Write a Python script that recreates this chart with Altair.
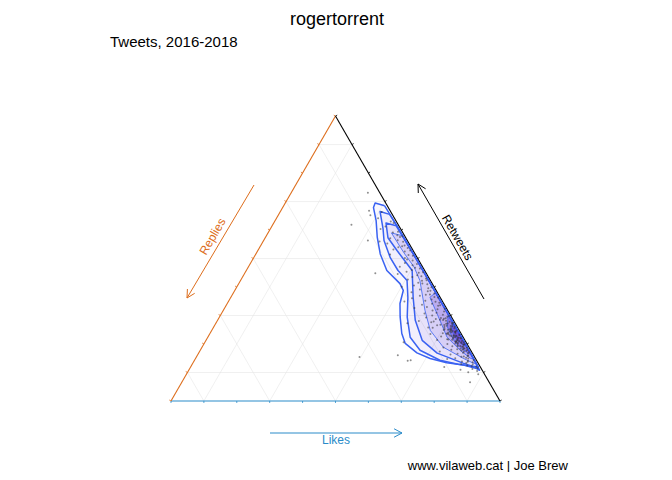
#ternary plot of tweet shares: likes / retweets / replies

import numpy as np
import pandas as pd
import altair as alt

BLUE = "#2a8bc9"
ORANGE = "#dd6d1c"
LINE = "#3a62f2"
FILL = "#4a24d8"
FONT = "Liberation Sans"

# tweet shares in percent (likes = 100 - retweets - replies)
retweets_pct = [
    66.3, 64.1, 63.0, 61.2, 60.4, 62.5, 65.2, 59.1,
    58.2, 57.1, 56.4, 55.3, 54.6, 54.0, 53.2, 52.5, 51.4, 51.0, 50.2, 56.0, 53.7, 57.6,
    49.3, 48.4, 47.6, 47.1, 46.5, 46.0, 45.4, 45.0, 44.6, 44.1, 43.5, 43.0, 42.6, 42.2, 41.5, 41.0, 40.5, 40.1,
    39.6, 39.1, 38.5, 38.2, 37.7, 37.3, 36.9, 36.5, 36.1, 35.6, 35.2, 34.9, 34.5, 34.1, 33.8,
    33.4, 33.0, 32.6, 32.2, 31.8, 31.4, 31.0, 30.7, 30.3, 30.0,
    59.4, 57.8, 55.9, 54.3, 52.8, 51.2, 49.7, 48.1, 46.8, 45.2,
    43.8, 42.4, 41.2, 39.9, 38.7, 37.4, 36.2, 34.8, 33.6, 32.4,
    29.6, 29.1, 28.8, 29.3, 28.2, 28.5, 27.9, 28.1, 27.4, 27.1, 26.8, 27.6, 26.3, 26.0, 26.6,
    25.8, 25.5, 25.2, 24.9, 25.7, 24.6, 24.3, 24.0, 23.8, 24.4, 23.5, 23.2, 22.9, 23.6, 22.6,
    22.3, 22.0, 21.7, 22.5, 21.4, 21.1, 20.8, 21.6, 20.5, 20.2, 20.0, 21.3, 20.7, 23.0, 24.8,
    24.2, 23.1, 22.2, 21.2, 20.3, 19.3, 25.1, 26.2, 18.4, 22.7, 20.4, 23.4,
    29.8, 29.0, 28.4, 27.8, 27.2, 26.7, 26.1, 25.6, 25.0, 24.5,
    24.1, 23.7, 23.3, 22.8, 22.4, 21.9, 21.5, 21.0, 20.6, 20.1,
    19.7, 19.2, 18.7, 18.1, 17.6, 28.9, 27.5, 26.4, 25.3, 24.7,
    23.9, 23.0, 22.1, 21.8, 20.9, 19.9, 19.0, 18.3, 17.3, 26.9,
    19.8, 19.5, 19.2, 19.0, 18.8, 18.5, 18.2, 18.0, 17.7, 17.4, 17.1, 16.9, 16.6, 16.3, 16.0,
    15.8, 15.5, 15.2, 15.0, 14.7, 14.4, 14.1, 13.9, 13.6, 13.3, 13.0, 12.8, 12.5, 12.2, 12.0,
    14.9, 16.7, 17.9, 13.8, 15.6,
    11.6, 11.2, 10.5, 10.1, 9.4, 11.0,
    73.1, 66.8, 61.9, 56.3, 44.8, 27.3, 20.6, 16.1, 14.3, 14.1, 15.4, 11.9, 6.6,
]
replies_pct = [
    2.8, 5.0, 1.7, 4.2, 6.1, 1.1, 6.8, 3.0,
    2.1, 4.8, 2.9, 6.6, 1.7, 3.9, 5.8, 2.7, 7.7, 1.0, 3.8, 8.6, 1.2, 1.6,
    1.9, 4.7, 2.8, 6.9, 1.1, 3.8, 5.7, 2.2, 8.8, 3.1, 4.9, 1.0, 6.7, 2.6, 4.1, 1.6, 5.9, 9.8,
    2.0, 4.8, 2.7, 7.8, 1.1, 3.9, 5.9, 1.7, 8.7, 3.0, 5.1, 11.6, 1.2, 3.6, 6.8,
    2.1, 5.7, 9.7, 2.9, 4.6, 1.3, 3.8, 7.6, 2.2, 5.6,
    1.3, 0.8, 1.5, 2.6, 0.9, 2.2, 3.4, 1.2, 2.4, 0.8,
    2.0, 1.1, 3.0, 0.9, 1.8, 2.6, 0.7, 2.2, 1.4, 0.6,
    1.2, 3.4, 5.1, 7.8, 2.3, 4.0, 6.2, 10.6, 0.9, 2.8, 4.7, 7.1, 1.8, 3.9, 5.8,
    8.9, 1.1, 2.6, 4.6, 7.6, 2.1, 1.5, 3.7, 5.5, 2.9, 9.4, 0.8, 2.6, 4.4, 6.6,
    1.7, 3.3, 5.2, 2.4, 8.4, 1.0, 2.9, 4.9, 1.6, 3.5, 6.0, 2.2, 3.0, 1.9, 2.5,
    1.5, 2.5, 1.4, 2.6, 1.5, 2.4, 2.3, 1.4, 1.6, 3.4, 2.6, 3.9,
    0.6, 2.0, 3.1, 1.4, 2.3, 3.6, 0.7, 2.1, 3.3, 1.2,
    2.7, 4.1, 0.6, 1.8, 2.9, 0.9, 3.8, 1.9, 0.7, 2.8,
    1.3, 3.2, 0.7, 2.2, 1.4, 2.6, 0.5, 3.0, 4.2, 0.8,
    1.6, 3.7, 0.9, 2.0, 3.1, 0.8, 1.7, 2.9, 2.3, 1.0,
    1.1, 3.2, 4.9, 2.0, 7.8, 1.8, 3.9, 5.8, 2.9, 9.6, 0.9, 2.8, 4.6, 6.9, 1.7,
    1.9, 4.0, 2.7, 6.1, 8.7, 0.8, 2.7, 4.6, 1.5, 3.6, 5.3, 1.9, 3.7, 2.5, 1.2,
    2.2, 1.4, 1.0, 2.9, 3.2,
    1.0, 2.8, 1.7, 4.6, 1.9, 6.5,
    3.6, 6.4, 14.2, 12.0, 15.5, 14.5, 19.0, 23.0, 20.0, 21.0, 35.0, 11.0, 5.8,
]
assert len(retweets_pct) == len(replies_pct)

# density contour outlines (retweets %, replies %), outer -> inner
contour_rt = [
    [68.5, 69.5, 67.9, 63.3, 57.4, 51.6, 45.8, 41.2, 38.8, 34.2, 29.5, 23.7, 20.2, 16.9,
     14.9, 13.4, 12.6, 11.4, 10.8, 20.0, 35.0, 50.0, 62.0, 68.5],
    [65.5, 66.5, 60.5, 56.3, 50.3, 45.8, 42.3, 36.4, 29.4, 22.4, 17.8, 14.3, 12.9, 12.2,
     12.0, 20.0, 35.0, 50.0, 62.0, 65.5],
    [61.5, 62.5, 57.3, 52.8, 45.8, 36.4, 28.3, 21.3, 16.8, 13.3, 11.9, 11.9, 20.0, 35.0, 50.0, 61.5],
    [58.0, 59.0, 52.0, 47.0, 42.3, 31.8, 24.8, 18.9, 15.0, 13.3, 13.0, 20.0, 35.0, 50.0, 58.0],
    [38.0, 36.4, 28.3, 22.4, 17.8, 15.0, 14.6, 20.0, 30.0, 38.0],
    [30.0, 26.0, 21.0, 18.0, 16.5, 16.3, 22.0, 30.0],
    [27.5, 24.5, 21.5, 19.8, 19.0, 23.0, 27.5],
]
contour_rp = [
    [0.8, 3.2, 4.5, 6.0, 8.6, 10.6, 11.5, 9.8, 10.0, 13.3, 15.6, 18.0, 18.7, 16.8,
     13.8, 9.5, 4.8, 1.4, 0.8, 0.5, 0.5, 0.5, 0.6, 0.8],
    [0.8, 3.2, 5.3, 7.1, 8.2, 8.1, 7.1, 9.8, 13.5, 16.1, 15.4, 11.1, 6.3, 2.4,
     0.7, 0.5, 0.5, 0.5, 0.6, 0.8],
    [0.8, 3.4, 5.4, 4.9, 3.8, 8.2, 11.6, 13.0, 10.7, 4.6, 1.6, 0.6, 0.5, 0.5, 0.5, 0.8],
    [0.7, 3.5, 3.2, 2.6, 3.2, 6.9, 8.8, 7.8, 3.7, 1.5, 0.6, 0.5, 0.5, 0.5, 0.7],
    [0.6, 3.1, 4.1, 4.9, 3.2, 1.5, 0.6, 0.5, 0.5, 0.6],
    [0.8, 3.0, 3.4, 2.2, 1.0, 0.5, 0.5, 0.8],
    [0.8, 2.3, 2.4, 1.5, 0.6, 0.5, 0.8],
]
fill_opacity = [0.03, 0.04, 0.06, 0.1, 0.2, 0.35, 0.45]

grid_vals = [0.1, 0.3, 0.5, 0.7, 0.9]
tick_vals = [i / 10 for i in range(11)]

H = np.sqrt(3) / 2


def tern(rt, rp):
    # retweets at top, likes bottom-right, replies bottom-left
    rt = np.asarray(rt, dtype=float)
    rp = np.asarray(rp, dtype=float)
    likes = 1 - rt - rp
    return likes + rt / 2, rt * H


xs = alt.Scale(domain=[-0.4954, 1.4985], nice=False, zero=False)
ys = alt.Scale(domain=[-0.2158, 1.1945], nice=False, zero=False)

# points
px, py = tern(np.array(retweets_pct) / 100, np.array(replies_pct) / 100)
pts = pd.DataFrame({"x": px, "y": py})

# contours
rows = []
for lev, (r1, r2) in enumerate(zip(contour_rt, contour_rp)):
    cx, cy = tern(np.array(r1) / 100, np.array(r2) / 100)
    for i in range(len(cx)):
        rows.append({"lev": lev, "i": i, "x": cx[i], "y": cy[i]})
cont = pd.DataFrame(rows)

# grid lines
seg = []
for v in grid_vals:
    for a, b in [((v, 1 - v), (v, 0)), ((0, 1 - v), (1 - v, 0)), ((0, v), (1 - v, v))]:
        x1, y1 = tern(a[0], a[1])
        x2, y2 = tern(b[0], b[1])
        seg.append({"x": float(x1), "y": float(y1), "x2": float(x2), "y2": float(y2)})
grid = pd.DataFrame(seg)

# triangle edges
edges = pd.DataFrame({
    "x": [0, 0, 0.5], "y": [0, 0, H], "x2": [1, 0.5, 1], "y2": [0, H, 0],
    "c": [BLUE, ORANGE, "black"],
})

# ticks
tk = []
L = 0.006
for v in tick_vals:
    tk.append({"x": v, "y": 0, "x2": v, "y2": -L, "c": BLUE})
    r = 1 - v
    tk.append({"x": r / 2, "y": r * H, "x2": r / 2 - L * H, "y2": r * H + L / 2, "c": ORANGE})
    tk.append({"x": 1 - v / 2, "y": v * H, "x2": 1 - v / 2 + L * H, "y2": v * H + L / 2, "c": "black"})
ticks = pd.DataFrame(tk)


def arrow(tail, head, color, size=9, spread=np.radians(28)):
    (tx, ty), (hx, hy) = tail, head
    tx, ty, hx, hy = tx - 8, ty - 8, hx - 8, hy - 8
    ang = np.arctan2(ty - hy, tx - hx)
    out = [{"x": tx, "y": ty, "x2": hx, "y2": hy, "c": color}]
    for s in (-spread, spread):
        out.append({"x": hx, "y": hy, "x2": hx + size * np.cos(ang + s),
                    "y2": hy + size * np.sin(ang + s), "c": color})
    return out


arrows = pd.DataFrame(
    arrow((270, 433), (402, 433), BLUE)
    + arrow((254, 185), (187, 298), ORANGE)
    + arrow((484, 299), (418, 184), "black")
)


def seg_layer(df, width):
    return alt.Chart(df).mark_rule(strokeWidth=width).encode(
        x=alt.X("x:Q", scale=xs, axis=None),
        y=alt.Y("y:Q", scale=ys, axis=None),
        x2="x2:Q", y2="y2:Q",
    )


grid_layer = seg_layer(grid, 0.6).encode(color=alt.value("#e6e6e6"))
edge_layer = seg_layer(edges, 1.1).encode(color=alt.Color("c:N", scale=None))
tick_layer = seg_layer(ticks, 0.8).encode(color=alt.Color("c:N", scale=None))

arrow_layer = alt.Chart(arrows).mark_rule(strokeWidth=1).encode(
    x=alt.X("x:Q", scale=None), y=alt.Y("y:Q", scale=None),
    x2="x2:Q", y2="y2:Q", color=alt.Color("c:N", scale=None),
)


def contour_layer(lev, width):
    return alt.Chart(cont[cont.lev == lev]).mark_line(
        fill=FILL, fillOpacity=fill_opacity[lev], stroke=LINE, strokeWidth=width,
        strokeJoin="round",
    ).encode(
        x=alt.X("x:Q", scale=xs, axis=None),
        y=alt.Y("y:Q", scale=ys, axis=None),
        order="i:Q",
    )


contours = [contour_layer(k, 1.5 if k < 3 else 0.8) for k in range(len(contour_rt))]

point_layer = alt.Chart(pts).mark_circle(size=4, color="#333333", opacity=0.55).encode(
    x=alt.X("x:Q", scale=xs, axis=None),
    y=alt.Y("y:Q", scale=ys, axis=None),
)

one = pd.DataFrame({"t": [0]})


def label(text, x, y, size, color="black", align="center", angle=0, baseline="alphabetic"):
    return alt.Chart(one).mark_text(
        text=text, fontSize=size, font=FONT, color=color, align=align,
        baseline=baseline, angle=angle,
    ).encode(x=alt.value(x - 8), y=alt.value(y - 8))


texts = [
    label("rogertorrent", 337, 24.5, 18),
    label("Tweets, 2016-2018", 110, 47, 15, align="left"),
    label("www.vilaweb.cat | Joe Brew", 568, 470, 13, align="right"),
    label("Likes", 336, 444, 12, color=BLUE),
    label("Replies", 212.5, 236.5, 12, color=ORANGE, angle=300, baseline="middle"),
    label("Retweets", 457.5, 237.5, 12, angle=60, baseline="middle"),
]

chart = alt.layer(
    grid_layer, edge_layer, tick_layer, *contours, point_layer, arrow_layer, *texts
).properties(
    width=656, height=464, padding=0, autosize="none"
).configure_view(stroke=None)

chart.save("out.html", embed_options={"renderer": "svg", "actions": False})
